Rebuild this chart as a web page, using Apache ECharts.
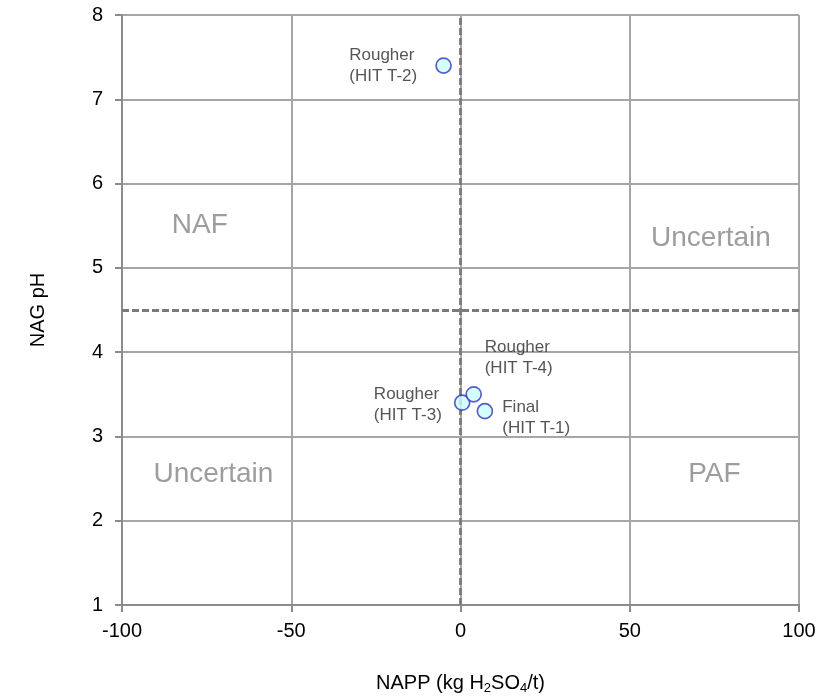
<!DOCTYPE html>
<html>
<head>
<meta charset="utf-8">
<script src="https://cdn.jsdelivr.net/npm/echarts@6/dist/echarts.min.js"></script>
<style>html,body{margin:0;padding:0;background:#fff}#c{width:820px;height:700px}</style>
</head>
<body>
<div id="c"></div>
<script>
// ---- data ----
const sampleNames = ['Final\n(HIT T-1)', 'Rougher\n(HIT T-2)', 'Rougher\n(HIT T-3)', 'Rougher\n(HIT T-4)'];
const nappValues = [7.2, -5, 0.5, 3.9];      // kg H2SO4/t
const nagPHValues = [3.3, 7.4, 3.4, 3.5];
const zoneNames = ['NAF', 'Uncertain', 'Uncertain', 'PAF'];
const zoneNAPP = [-77, 74, -73, 75];
const zonePH = [5.5, 5.35, 2.55, 2.55];
const nappThreshold = 0;
const phThreshold = 4.5;
const xTicks = [-100, -50, 0, 50, 100];
const yTicks = [1, 2, 3, 4, 5, 6, 7, 8];

// ---- styles ----
const FONT = '"Liberation Sans", Arial, sans-serif';
const labelStyles = [
  { position: 'right', distance: 9, offset: [0, 7] },
  { position: 'left', distance: 18, offset: [0, 0] },
  { position: 'left', distance: 12, offset: [0, 2] },
  { position: 'top', distance: 7, offset: [45, 0] }
];

const points = sampleNames.map((n, i) => ({
  name: n,
  value: [nappValues[i], nagPHValues[i]],
  label: Object.assign({
    show: true,
    formatter: n.split('\n').map(s => '{a|' + s + '}').join('\n'),
    rich: { a: { fontSize: 17, lineHeight: 21, color: '#2b2b2b', fontFamily: FONT, align: 'left' } }
  }, labelStyles[i])
}));

const zones = zoneNames.map((n, i) => ({ name: n, value: [zoneNAPP[i], zonePH[i]] }));

const chart = echarts.init(document.getElementById('c'), null, { renderer: 'canvas' });
chart.setOption({
  animation: false,
  backgroundColor: '#fff',
  grid: { left: 122, right: 21, top: 15, bottom: 94, containLabel: false },
  xAxis: {
    type: 'value', min: xTicks[0], max: xTicks[xTicks.length - 1], interval: 50,
    name: '{t|NAPP (kg H}{s|2}{t|SO}{s|4}{t|/t)}',
    nameLocation: 'middle', nameGap: 66,
    nameTextStyle: {
      rich: {
        t: { fontSize: 20, fontFamily: FONT, color: '#000', lineHeight: 24 },
        s: { fontSize: 13, fontFamily: FONT, color: '#000', lineHeight: 24, padding: [11, 0, 0, 0] }
      }
    },
    axisLine: { show: true, onZero: false, lineStyle: { color: '#8c8c8c', width: 2 } },
    axisTick: { show: true, length: 7, lineStyle: { color: '#8c8c8c', width: 2 } },
    axisLabel: { fontSize: 20, color: '#000', fontFamily: FONT, margin: 16 },
    splitLine: { show: true, lineStyle: { color: '#a6a6a6', width: 2 } }
  },
  yAxis: {
    type: 'value', min: yTicks[0], max: yTicks[yTicks.length - 1], interval: 1,
    name: 'NAG pH', nameLocation: 'middle', nameGap: 74, nameRotate: 90,
    nameTextStyle: { fontSize: 20, fontFamily: FONT, color: '#000' },
    axisLine: { show: true, onZero: false, lineStyle: { color: '#8c8c8c', width: 2 } },
    axisTick: { show: true, length: 7, lineStyle: { color: '#8c8c8c', width: 2 } },
    axisLabel: { fontSize: 20, color: '#000', fontFamily: FONT, margin: 19 },
    splitLine: { show: true, lineStyle: { color: '#a6a6a6', width: 2 } }
  },
  series: [
    {
      type: 'scatter', z: 2, symbolSize: 0, silent: true,
      data: zones,
      label: { show: true, position: 'inside', formatter: '{b}', fontSize: 28, color: '#858585', fontFamily: FONT },
      markLine: {
        silent: true, symbol: 'none', label: { show: false },
        lineStyle: { color: '#7a7a7a', width: 2.8, type: [7, 3] },
        data: [{ xAxis: nappThreshold }, { yAxis: phThreshold }]
      }
    },
    {
      type: 'scatter', z: 5,
      symbol: 'circle', symbolSize: 15,
      itemStyle: { color: '#ccffff', borderColor: '#3333b8', borderWidth: 1.7 },
      data: points
    }
  ]
});
</script>
</body>
</html>
